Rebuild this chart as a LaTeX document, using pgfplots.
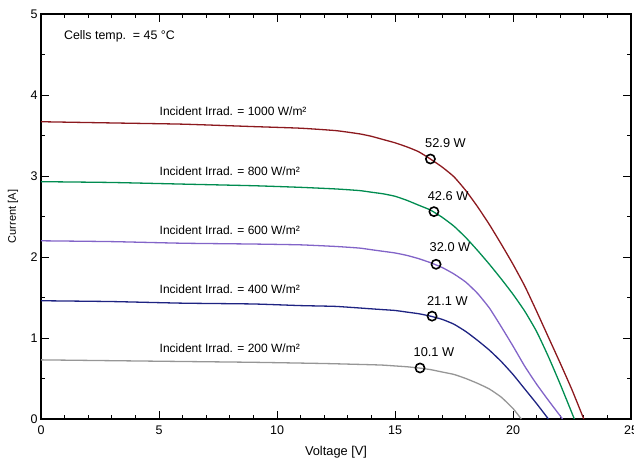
\documentclass[border=0pt]{standalone}
\usepackage{fontspec}
\setmainfont{Liberation Sans}
\usepackage{pgfplots}
\pgfplotsset{compat=1.18}
\definecolor{c1000}{RGB}{140,25,30}
\definecolor{c800}{RGB}{0,140,80}
\definecolor{c600}{RGB}{130,100,200}
\definecolor{c400}{RGB}{30,35,130}
\definecolor{c200}{RGB}{150,150,150}
\begin{document}
\begin{tikzpicture}
\begin{axis}[
  width=590pt, height=405pt, scale only axis,
  xmin=0, xmax=25, ymin=0, ymax=5,
  xtick={0,5,...,25}, ytick={0,1,...,5},
  minor x tick num=4, minor y tick num=1,
  tick align=inside,
  major tick length=8pt, minor tick length=4pt,
  axis line style={line width=1.6pt},
  every tick/.style={black, line width=0.9pt},
  tick label style={font=\fontsize{12.5}{14}\selectfont},
  /pgf/number format/assume math mode=true,
  xticklabel style={yshift=-3.5pt},
  xlabel={Voltage [V]}, ylabel={Current [A]},
  xlabel style={at={(axis description cs:0.5,-0.0815)}, anchor=center, inner sep=0pt, font=\fontsize{12.8}{14}\selectfont},
  ylabel style={at={(axis description cs:-0.0475,0.5)}, anchor=center, inner sep=0pt, font=\fontsize{11}{13}\selectfont},
  every axis plot/.append style={line width=1.3pt, smooth, tension=0.3},
  clip=false,
]
\coordinate (sw) at (rel axis cs:0,0);
\coordinate (ne) at (rel axis cs:1,1);
\addplot[c1000, no marks] coordinates {
(0,3.67) (3,3.655) (6,3.64) (9,3.61) (11,3.59) (12.5,3.56) (13.5,3.52) (14.0,3.49) (14.5,3.45) (15.0,3.41) (15.5,3.36) (16.0,3.30) (16.5,3.21) (17.0,3.11) (17.5,2.99) (18.0,2.82) (18.5,2.62) (19.0,2.40) (19.5,2.16) (20.0,1.91) (20.5,1.64) (21.0,1.33) (21.5,1.01) (22.0,0.69) (22.5,0.36) (23.0,0)};
\addplot[c800, no marks] coordinates {
(0,2.93) (3,2.92) (6,2.90) (9,2.88) (11,2.86) (12.5,2.84) (13.5,2.82) (14.0,2.80) (14.5,2.78) (15.0,2.75) (15.5,2.70) (16.0,2.64) (16.5,2.58) (17.0,2.49) (17.5,2.38) (18.0,2.24) (18.5,2.08) (19.0,1.91) (19.5,1.73) (20.0,1.54) (20.5,1.33) (21.0,1.08) (21.5,0.77) (22.0,0.43) (22.6,0)};
\addplot[c600, no marks] coordinates {
(0,2.20) (3,2.19) (6,2.17) (9,2.16) (11,2.15) (12.5,2.13) (13.5,2.11) (14.0,2.09) (14.5,2.07) (15.0,2.05) (15.5,2.02) (16.0,1.98) (16.5,1.93) (17.0,1.87) (17.5,1.79) (18.0,1.69) (18.5,1.55) (19.0,1.37) (19.5,1.14) (20.0,0.90) (20.5,0.65) (21.0,0.43) (21.5,0.23) (22.1,0)};
\addplot[c400, no marks] coordinates {
(0,1.46) (3,1.45) (6,1.43) (9,1.42) (11,1.40) (12.5,1.39) (14.0,1.36) (14.5,1.35) (15.0,1.34) (15.5,1.32) (16.0,1.30) (16.5,1.27) (17.0,1.23) (17.5,1.17) (18.0,1.08) (18.5,0.97) (19.0,0.85) (19.5,0.71) (20.0,0.55) (20.5,0.37) (21.0,0.19) (21.5,0)};
\addplot[c200, no marks] coordinates {
(0,0.73) (3,0.72) (6,0.71) (9,0.70) (12,0.685) (14.0,0.67) (14.5,0.665) (15.0,0.655) (15.5,0.645) (16.0,0.63) (16.5,0.61) (17.0,0.58) (17.5,0.55) (18.0,0.50) (18.5,0.44) (19.0,0.37) (19.5,0.27) (20.0,0.13) (20.35,0)};
\addplot[only marks, mark=o, mark size=4.6pt, mark options={fill=white, draw=black, line width=1.6pt}] coordinates {
(16.5,3.21) (16.65,2.56) (16.74,1.91) (16.57,1.27) (16.06,0.63)};
\begin{scope}[inner sep=0pt]
\node[anchor=west, font=\fontsize{12.4}{14}\selectfont] at (axis cs:0.97,4.73) {Cells temp.\ \ = 45 °C};
\begin{scope}[font=\fontsize{12}{14}\selectfont]
\node[anchor=west] at (axis cs:5.02,3.80) {Incident Irrad. = 1000 W/m²};
\node[anchor=west] at (axis cs:5.02,3.06) {Incident Irrad. = 800 W/m²};
\node[anchor=west] at (axis cs:5.02,2.33) {Incident Irrad. = 600 W/m²};
\node[anchor=west] at (axis cs:5.02,1.60) {Incident Irrad. = 400 W/m²};
\node[anchor=west] at (axis cs:5.02,0.87) {Incident Irrad. = 200 W/m²};
\end{scope}
\begin{scope}[font=\fontsize{12.8}{14}\selectfont]
\node at (axis cs:17.14,3.41) {52.9 W};
\node at (axis cs:17.25,2.75) {42.6 W};
\node at (axis cs:17.33,2.12) {32.0 W};
\node at (axis cs:17.22,1.46) {21.1 W};
\node at (axis cs:16.65,0.83) {10.1 W};
\end{scope}
\end{scope}
\end{axis}
\pgfresetboundingbox
\path[use as bounding box] ([shift={(-41pt,-39pt)}]sw) rectangle ([shift={(3pt,14pt)}]ne);
\end{tikzpicture}
\end{document}
